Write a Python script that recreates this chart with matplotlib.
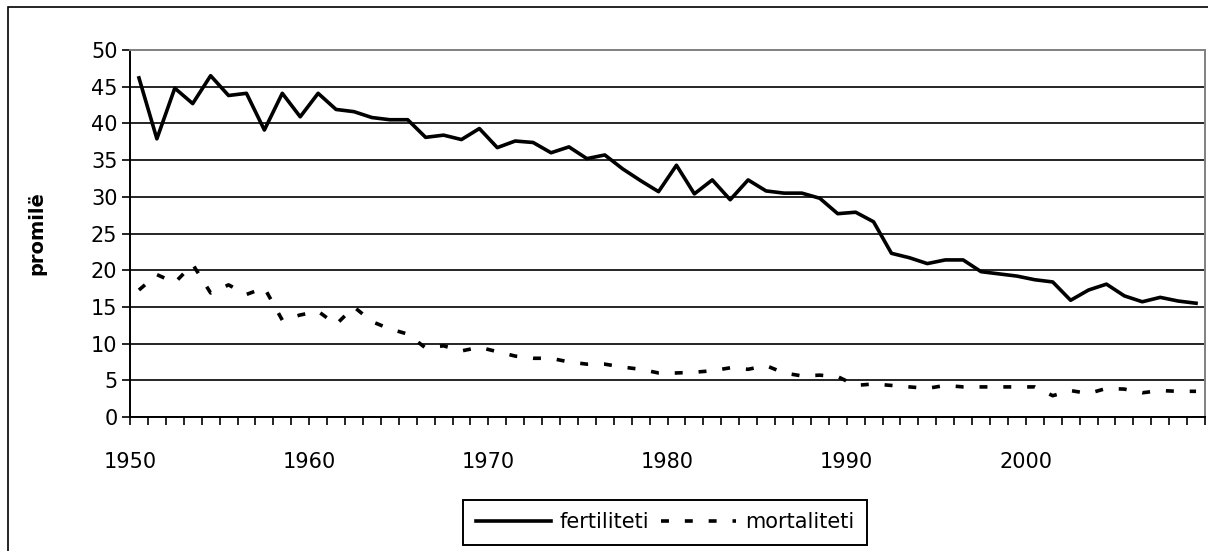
import numpy as np
import matplotlib
matplotlib.use("Agg")
import matplotlib.pyplot as plt
from matplotlib.patches import Rectangle

# datos (por mil)
years = list(range(1950, 2010))
fertiliteti = [46.2, 37.9, 44.8, 42.7, 46.5, 43.8, 44.1, 39.1, 44.1, 40.9,
               44.1, 41.9, 41.6, 40.8, 40.5, 40.5, 38.1, 38.4, 37.8, 39.3,
               36.7, 37.6, 37.4, 36.0, 36.8, 35.2, 35.7, 33.8, 32.2, 30.7,
               34.3, 30.4, 32.3, 29.6, 32.3, 30.8, 30.5, 30.5, 29.8, 27.7,
               27.9, 26.6, 22.3, 21.7, 20.9, 21.4, 21.4, 19.8, 19.5, 19.2,
               18.7, 18.4, 15.9, 17.3, 18.1, 16.5, 15.7, 16.3, 15.8, 15.5]
mortaliteti = [17.3, 19.4, 18.3, 20.8, 16.9, 18.0, 16.7, 17.6, 13.2, 13.9,
               14.4, 12.6, 15.0, 13.0, 12.0, 11.3, 9.4, 9.7, 9.0, 9.5,
               8.9, 8.3, 8.0, 8.0, 7.5, 7.2, 7.2, 6.8, 6.5, 6.0,
               6.0, 6.1, 6.3, 6.7, 6.5, 7.0, 6.0, 5.6, 5.7, 5.5,
               4.3, 4.5, 4.3, 4.1, 3.9, 4.3, 4.1, 4.1, 4.1, 4.1,
               4.1, 2.9, 3.6, 3.2, 3.9, 3.8, 3.3, 3.6, 3.5, 3.5]
year_labels = ['1950', '1960', '1970', '1980', '1990', '2000']
y_ticks = list(range(0, 55, 5))

W, H = 1208, 551
fig = plt.figure(figsize=(W / 100, H / 100), dpi=100)
ax = fig.add_axes([130 / W, 1 - 417 / H, 1075 / W, 367 / H])

# marco exterior del grafico (solo visible arriba e izquierda)
fig.patches.append(Rectangle((8 / W, -0.5), 2, 1.5 - 7 / H, transform=fig.transFigure,
                             fill=False, edgecolor='black', linewidth=1.2))

ax.plot(years, fertiliteti, color='black', linewidth=2.6, label='fertiliteti')
ax.plot(years, mortaliteti, color='black', linewidth=2.6,
        linestyle=(0, (2.2, 4.4)), label='mortaliteti')

ax.set_xlim(years[0] - 0.5, years[-1] + 0.5)
ax.set_ylim(0, 50)

# eje de categorias: marcas entre años, etiquetas cada 10
bounds = np.arange(years[0] - 0.5, years[-1] + 1, 1)
ax.set_xticks(bounds, minor=True)
ax.set_xticks(bounds[::10][:len(year_labels)])
ax.set_xticklabels(year_labels)
ax.set_yticks(y_ticks)
ax.tick_params(axis='x', which='both', direction='out', length=6, width=1.2,
               pad=19, labelsize=15, color='black')
ax.tick_params(axis='y', direction='out', length=6, width=1.2, pad=3, labelsize=15)

ax.yaxis.grid(True, color='black', linewidth=1.2)
ax.yaxis.get_gridlines()[-1].set_visible(False)
ax.set_axisbelow(True)

for s in ['left', 'bottom']:
    ax.spines[s].set_color('black')
    ax.spines[s].set_linewidth(1.4)
for s in ['top', 'right']:
    ax.spines[s].set_color('#808080')
    ax.spines[s].set_linewidth(1.4)

ax.set_ylabel('promilë', fontsize=14, fontweight='bold')
ax.yaxis.set_label_coords((46 - 130) / 1075, 0.5)

leg = fig.legend(loc='center', bbox_to_anchor=(665 / W, 1 - 522 / H), ncol=2,
                 fontsize=15, handlelength=3.6, handletextpad=0.4,
                 columnspacing=0.6, borderpad=0.6, fancybox=False,
                 framealpha=1, edgecolor='black')
leg.get_frame().set_linewidth(1.4)

fig.savefig('out.png', dpi=100)
